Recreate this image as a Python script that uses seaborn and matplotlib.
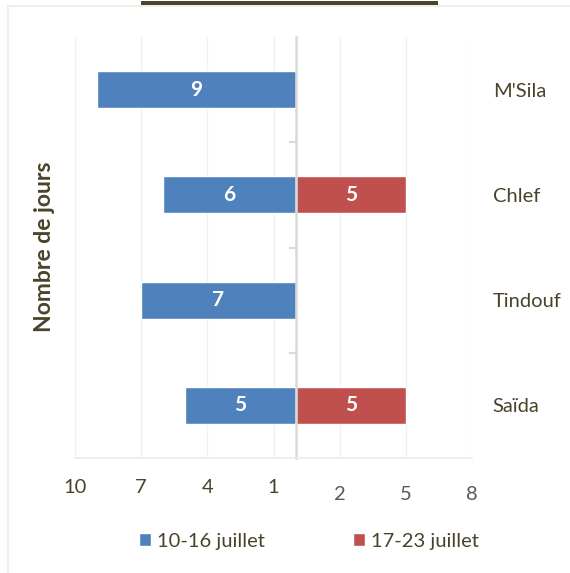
import pandas as pd
import matplotlib
matplotlib.use('Agg')
import matplotlib.pyplot as plt
import seaborn as sns
from matplotlib.patches import Rectangle

# données
villes = ["M'Sila", "Chlef", "Tindouf", "Saïda"]
periodes = ['10-16 juillet', '17-23 juillet']
jours_p1 = [9, 6, 7, 5]
jours_p2 = [None, 5, None, 5]
ticks_x = [-10, -7, -4, -1, 2, 5, 8]
tick_labels = ['10', '7', '4', '1', '2', '5', '8']

bleu = '#4F81BD'
rouge = '#C0504D'
txt = '#494429'

rows = []
for v, a, b in zip(villes, jours_p1, jours_p2):
    if a is not None:
        rows.append({'ville': v, 'periode': periodes[0], 'jours': -a})
    if b is not None:
        rows.append({'ville': v, 'periode': periodes[1], 'jours': b})
df = pd.DataFrame(rows)

sns.set_style('white')
plt.rcParams['font.family'] = ['Lato', 'DejaVu Sans']

fig = plt.figure(figsize=(5.7, 5.73), dpi=100)
ax = fig.add_axes([75 / 570, 1 - 458 / 573, 397 / 570, 421 / 573])

sns.barplot(data=df, x='jours', y='ville', hue='periode', order=villes,
            hue_order=periodes, palette=[bleu, rouge], dodge=False,
            width=0.35, orient='h', ax=ax, saturation=1)

# étiquettes de valeurs
for cont in ax.containers:
    labs = [f'{abs(int(b.get_width()))}' if b.get_width() == b.get_width() and b.get_width() != 0 else ''
            for b in cont]
    ax.bar_label(cont, labels=labs, label_type='center', color='white',
                 fontsize=15, fontweight='bold')

ax.set_xlim(-10, 8)
ax.set_xticks(ticks_x)
ax.set_xticklabels(tick_labels)
ax.grid(axis='x', color='#F0F0F0', linewidth=1)
ax.set_axisbelow(True)

# axes
for s in ['top', 'right']:
    ax.spines[s].set_visible(False)
ax.spines['left'].set_position(('data', 0))
ax.spines['left'].set_color('#D9D9D9')
ax.spines['left'].set_linewidth(1.8)
ax.spines['bottom'].set_color('#EEECE1')
ax.spines['bottom'].set_linewidth(1.2)

ax.tick_params(axis='x', length=0, pad=15, labelsize=14.5, labelcolor=txt)
for t, val in zip(ax.xaxis.get_major_ticks(), ticks_x):
    if val > 0:
        t.set_pad(20)
        t.tick1line.set_markersize(6)
        t.tick1line.set_color('#EEECE1')
        t.label1.set_color('#595959')

ax.yaxis.tick_right()
ax.tick_params(axis='y', which='major', length=0, pad=15, labelsize=14.5,
               labelcolor=txt, left=False, right=False, labelleft=False,
               labelright=True)
ax.set_yticks([0.5, 1.5, 2.5], minor=True)
ax.tick_params(axis='y', which='minor', left=True, right=False, length=5,
               width=1.5, color='#D9D9D9', direction='out')
ax.set_ylabel('')
ax.set_xlabel('')

fig.text(45 / 570, 1 - 247 / 573, 'Nombre de jours', rotation=90,
         ha='center', va='center', fontsize=16.5, fontweight='bold', color=txt)

# légende
sns.move_legend(ax, 'center', bbox_to_anchor=(309 / 570, 1 - 541 / 573),
                bbox_transform=fig.transFigure, ncol=2, frameon=False,
                title=None, fontsize=14.5, handlelength=0.6, handleheight=0.6,
                handletextpad=0.3, columnspacing=4.4)
for t in ax.get_legend().get_texts():
    t.set_color(txt)

# cadre et soulignement du titre coupé
fig.patches.append(Rectangle((8 / 570, -0.1), 1.2, 1 - 6 / 573 + 0.1,
                             transform=fig.transFigure, fill=False,
                             edgecolor='#EEECE1', linewidth=1.2))
fig.patches.append(Rectangle((141 / 570, 1 - 5 / 573), 297 / 570, 4 / 573,
                             transform=fig.transFigure, facecolor='#4A4430',
                             edgecolor='none'))

fig.savefig('out.png', dpi=100)
